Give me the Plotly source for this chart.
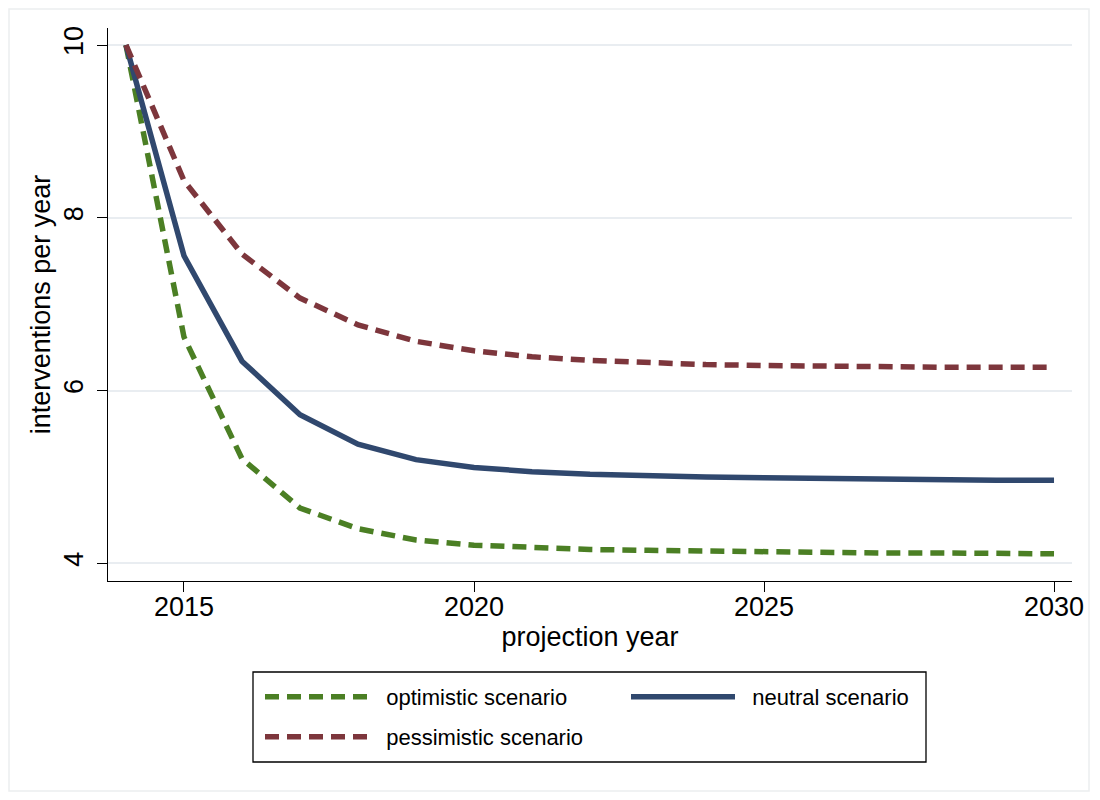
import plotly.graph_objects as go

# ---- data ----
years = list(range(2014, 2031))
optimistic = [10.00, 6.62, 5.21, 4.64, 4.40, 4.27, 4.21, 4.18, 4.16, 4.15, 4.14, 4.13, 4.13, 4.12, 4.12, 4.11, 4.11]
neutral = [10.00, 7.56, 6.34, 5.72, 5.38, 5.20, 5.11, 5.06, 5.03, 5.01, 5.00, 4.99, 4.98, 4.97, 4.97, 4.96, 4.96]
pessimistic = [10.00, 8.43, 7.58, 7.07, 6.76, 6.57, 6.46, 6.39, 6.35, 6.32, 6.30, 6.29, 6.28, 6.28, 6.27, 6.27, 6.27]

x_ticks = [2015, 2020, 2025, 2030]
y_ticks = [4, 6, 8, 10]

names = ["optimistic scenario", "neutral scenario", "pessimistic scenario"]
colors = ["#4b7f24", "#30486e", "#7d363c"]

FONT = "Liberation Sans, Arial, Helvetica, sans-serif"
OFF = 8  # page body margin offset
W, H = 1100 - OFF, 800 - OFF
ML, MR, MT, MB = 108 - OFF, 28, 28 - OFF, 219
PW = W - ML - MR
PH = H - MT - MB

def px2x(px):
    # screen pixel -> paper x
    return (px - OFF - ML) / PW

def py2y(py):
    # screen pixel -> paper y
    return (H - MB - (py - OFF)) / PH

fig = go.Figure()
fig.add_trace(go.Scatter(x=years, y=optimistic, mode="lines", name="\u00a0\u00a0" + names[0],
                         line=dict(color=colors[0], width=5.5, dash="14px,8px"), legend="legend"))
fig.add_trace(go.Scatter(x=years, y=neutral, mode="lines", name="\u00a0\u00a0" + names[1],
                         line=dict(color=colors[1], width=5.5), legend="legend"))
fig.add_trace(go.Scatter(x=years, y=pessimistic, mode="lines", name="\u00a0\u00a0" + names[2],
                         line=dict(color=colors[2], width=5.5, dash="14px,8px"), legend="legend2"))

legend_common = dict(
    orientation="h", xanchor="left", yanchor="middle",
    font=dict(family=FONT, size=22, color="black"),
    bgcolor="rgba(0,0,0,0)", borderwidth=0,
    itemwidth=104, entrywidth=247, entrywidthmode="pixels",
    traceorder="normal", itemclick=False,
)

fig.update_layout(
    width=W, height=H,
    margin=dict(l=ML, r=MR, t=MT, b=MB, autoexpand=False),
    paper_bgcolor="white", plot_bgcolor="white",
    font=dict(family=FONT, size=27, color="black"),
    xaxis=dict(range=[2013.69, 2030.31], tickvals=x_ticks, ticktext=[str(v) for v in x_ticks],
               showgrid=False, zeroline=False, showline=True, linecolor="black", linewidth=1.3,
               ticks="outside", ticklen=10, tickwidth=1.3, tickcolor="black",
               tickfont=dict(size=27), automargin=False, ticklabelstandoff=-9,
               title=dict(text="projection year", font=dict(size=27), standoff=6)),
    yaxis=dict(range=[3.795, 10.197], tickvals=y_ticks, ticktext=[str(v) for v in y_ticks],
               showgrid=True, gridcolor="#e9edf1", gridwidth=2,
               zeroline=False, showline=True, linecolor="black", linewidth=1.3,
               ticks="outside", ticklen=10, tickwidth=1.3, tickcolor="black",
               tickangle=-90, tickfont=dict(size=27), automargin=False, ticklabelstandoff=3,
               title=dict(text="interventions per year", font=dict(size=27), standoff=0)),
    legend=dict(x=px2x(260), y=py2y(697), **legend_common),
    legend2=dict(x=px2x(260), y=py2y(737), **legend_common),
    shapes=[
        dict(type="rect", xref="paper", yref="paper",
             x0=px2x(253), x1=px2x(926), y0=py2y(762), y1=py2y(672),
             line=dict(color="black", width=1.3), fillcolor="rgba(0,0,0,0)", layer="above"),
        dict(type="rect", xref="paper", yref="paper",
             x0=px2x(9), x1=px2x(1089), y0=py2y(791), y1=py2y(9),
             line=dict(color="#eceef0", width=1.5), fillcolor="rgba(0,0,0,0)", layer="below"),
    ],
    showlegend=True,
)

fig.write_html("out.html")
